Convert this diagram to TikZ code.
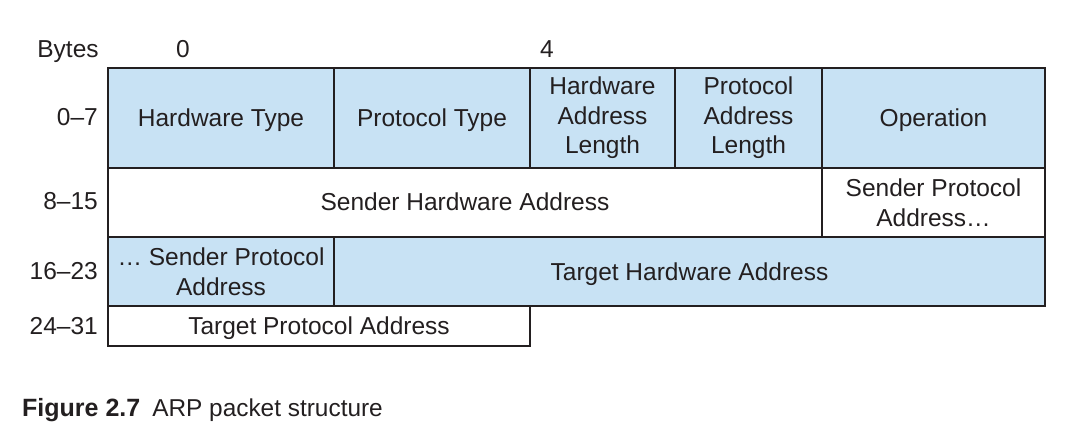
\documentclass[tikz,border=0pt]{standalone}
\usepackage{fontspec}
\setmainfont{Liberation Sans}
\definecolor{cellblue}{RGB}{200,226,244}
\definecolor{ink}{RGB}{35,31,32}
\begin{document}
\begin{tikzpicture}[x=1pt,y=-1pt,
  font=\fontsize{24.5}{29.5}\selectfont, text=ink,
  cell/.style={draw=ink, line width=2pt, rectangle, inner sep=0pt, align=center},
  bluecell/.style={cell, fill=cellblue},
  whitecell/.style={cell, fill=white},
  flat/.style={text depth=0pt},
  lbl/.style={inner sep=0pt}]
\useasboundingbox (0,0) rectangle (1079,434);
% row 1
\node[bluecell, flat, minimum width=226, minimum height=100] (ht) at (221,118) {Hardware Type};
\node[bluecell, flat, minimum width=196, minimum height=100] (pt) at (432,118) {Protocol Type};
\node[bluecell, minimum width=145, minimum height=100] (hal) at (602.5,118) {Hardware\\Address\\Length};
\node[bluecell, minimum width=147, minimum height=100] (pal) at (748.5,118) {Protocol\\Address\\Length};
\node[bluecell, flat, minimum width=223, minimum height=100] (op) at (933.5,118) {Operation};
% row 2
\node[whitecell, minimum width=714, minimum height=69] (sha) at (465,202) {Sender Hardware Address};
\node[whitecell, minimum width=223, minimum height=69] (spa1) at (933.5,202.5) {Sender Protocol\\Address…};
% row 3
\node[bluecell, minimum width=226, minimum height=69] (spa2) at (221,271.5) {… Sender Protocol\\Address};
\node[bluecell, flat, minimum width=711, minimum height=69] (tha) at (689.5,271.5) {Target Hardware Address};
% row 4
\node[whitecell, flat, minimum width=422, minimum height=40] (tpa) at (319,326) {Target Protocol Address};
% byte labels
\node[lbl, anchor=base] (bytes) at (68,57.5) {Bytes};
\node[lbl, anchor=base] (b0) at (183,57.5) {0};
\node[lbl, anchor=base] (b4) at (547,57.5) {4};
% row labels
\node[lbl, anchor=east] (r1) at (98,117) {0–7};
\node[lbl, anchor=east] (r2) at (98,201) {8–15};
\node[lbl, anchor=east] (r3) at (98,271) {16–23};
\node[lbl, anchor=east] (r4) at (98,326) {24–31};
% caption
\node[lbl, anchor=base west] (cap) at (22,416.5) {{\fontsize{25}{30}\selectfont\bfseries Figure 2.7}\hspace{12pt}{\fontsize{24.4}{30}\selectfont ARP packet structure}};
\end{tikzpicture}
\end{document}
